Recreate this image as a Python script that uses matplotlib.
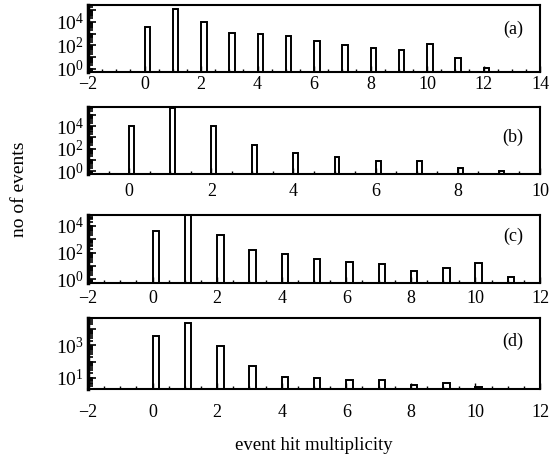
#!/usr/bin/env python3
# -*- coding: utf-8 -*-
"""
Event hit multiplicity distributions, four panels, log y.
"""

import numpy as np
import matplotlib
matplotlib.use("Agg")
import matplotlib.pyplot as plt
from matplotlib.ticker import FixedLocator, LogLocator, MultipleLocator, NullFormatter

plt.rcParams['font.family'] = ['Liberation Serif', 'DejaVu Serif']
plt.rcParams['mathtext.fontset'] = 'custom'
plt.rcParams['mathtext.rm'] = 'Liberation Serif'
plt.rcParams['mathtext.it'] = 'Liberation Serif:italic'

# multiplicity bins and counts
mult_a = [0, 1, 2, 3, 4, 5, 6, 7, 8, 9, 10, 11, 12]
counts_a = [4000, 1.2e5, 9400, 1230, 1000, 600, 240, 110, 65, 44, 126, 9, 1.1]

mult_b = [0, 1, 2, 3, 4, 5, 6, 7, 8, 9]
counts_b = [1.07e4, 4e5, 1e4, 220, 42, 17, 7.8, 7.8, 2.0, 1.0]

mult_c = [0, 1, 2, 3, 4, 5, 6, 7, 8, 9, 10, 11]
counts_c = [4300, 7e4, 2000, 170, 85, 36, 20, 13, 4.2, 7.5, 18, 1.4]

mult_d = [0, 1, 2, 3, 4, 5, 6, 7, 8, 9, 10]
counts_d = [3900, 2.3e4, 890, 55, 11.5, 9, 7.2, 7.2, 3.5, 4.5, 2.6]

labels = ["(a)", "(b)", "(c)", "(d)"]
xlims = [(-2, 14), (-1, 10), (-2, 12), (-2, 12)]
ylims = [(0.55, 2.8e5), (0.55, 4.9e5), (0.53, 6.5e4), (2.0, 5e4)]
ylabel_pows = [[0, 2, 4], [0, 2, 4], [0, 2, 4], [1, 3]]

# pixel boxes (top, bottom) of each panel in the 551x457 figure
boxes = [(5, 72), (107, 174), (215, 283), (318, 389)]
xpads = [3.0, 6.6, 4.7, 10.8]
bar_w = [0.2, 0.12, 0.2, 0.2]
lab_y = [0.64, 0.55, 0.69, 0.67]

W, H = 551, 457
fig = plt.figure(figsize=(W / 100, H / 100), dpi=100)

data = [(mult_a, counts_a), (mult_b, counts_b), (mult_c, counts_c), (mult_d, counts_d)]
axes = []
for i, (mult, counts) in enumerate(data):
    top, bot = boxes[i]
    ax = fig.add_axes([88 / W, 1 - bot / H, 452 / W, (bot - top) / H])
    axes.append(ax)
    ax.set_yscale('log')
    ax.bar(mult, counts, width=bar_w[i], align='edge', bottom=1e-3,
           facecolor='white', edgecolor='black', linewidth=1.4)
    ax.set_xlim(*xlims[i])
    ax.set_ylim(*ylims[i])

    ax.xaxis.set_major_locator(MultipleLocator(2))
    ax.xaxis.set_minor_locator(MultipleLocator(0.5))
    if i == 1:
        ax.set_xticks([0, 2, 4, 6, 8, 10])

    lo, hi = np.log10(ylims[i])
    decs = np.arange(int(np.ceil(lo)), int(np.floor(hi)) + 1)
    ax.yaxis.set_major_locator(FixedLocator(10.0 ** decs))
    ax.set_yticklabels([r'$10^{%d}$' % d if d in ylabel_pows[i] else '' for d in decs])
    ax.yaxis.set_minor_locator(LogLocator(base=10, subs=np.arange(2, 10), numticks=20))
    ax.yaxis.set_minor_formatter(NullFormatter())

    ax.tick_params(which='both', direction='in', top=False, right=False)
    ax.tick_params(axis='x', which='major', length=4, width=1, labelsize=13, pad=xpads[i])
    ax.tick_params(axis='x', which='minor', length=2.5, width=1)
    ax.tick_params(axis='y', which='major', length=6, width=1.2, labelsize=14, pad=3)
    ax.tick_params(axis='y', which='minor', length=3.5, width=1.2)
    for s in ax.spines.values():
        s.set_linewidth(1.5)
    ax.spines['left'].set_linewidth(2.5)

    ax.text(0.94, lab_y[i], labels[i], transform=ax.transAxes, fontsize=13,
            ha='center', va='center')

fig.text(20 / W, 1 - 189 / H, 'no of events', rotation=90, fontsize=14,
         ha='center', va='center')
fig.text(314 / W, 1 - 445 / H, 'event hit multiplicity', fontsize=13.5,
         ha='center', va='center')

fig.savefig('out.png', dpi=100)
